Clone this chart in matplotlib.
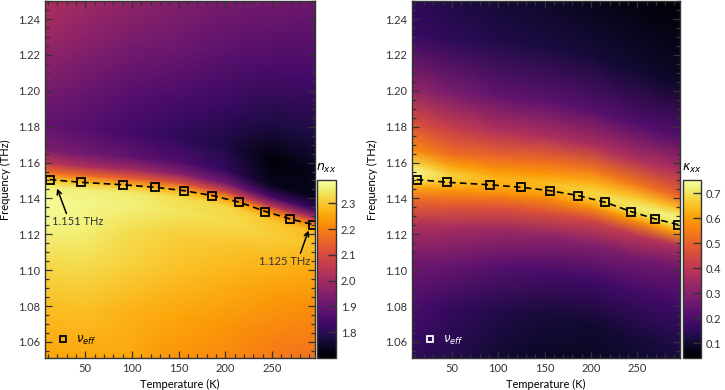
import numpy as np
import matplotlib
matplotlib.use("Agg")
import matplotlib.pyplot as plt
from matplotlib.lines import Line2D
from matplotlib.ticker import MultipleLocator

plt.rcParams["font.family"] = ["Lato", "DejaVu Sans"]
plt.rcParams["font.size"] = 8

# resonance (v_eff)
T_marker = [12, 45, 91, 125, 156, 186, 215, 243, 269, 294]
f_marker = [1.1505, 1.1490, 1.1476, 1.1462, 1.1443, 1.1416, 1.1379, 1.1327, 1.1286, 1.1254]

# coarse map grid: columns in T, rows as offsets from the resonance (THz)
T_cols = [7, 50, 100, 150, 200, 250, 297]
ridge_cols = [1.1508, 1.1488, 1.1472, 1.1447, 1.1398, 1.1316, 1.1250]
offsets = [-0.10, -0.07, -0.045, -0.025, -0.012, -0.004, 0.0,
           0.004, 0.009, 0.016, 0.03, 0.05, 0.08, 0.13]

n_xx = [
    [2.25, 2.25, 2.25, 2.22, 2.20, 2.17, 2.14],
    [2.29, 2.29, 2.27, 2.25, 2.23, 2.20, 2.18],
    [2.33, 2.33, 2.31, 2.29, 2.27, 2.24, 2.22],
    [2.37, 2.36, 2.33, 2.31, 2.30, 2.28, 2.26],
    [2.38, 2.37, 2.36, 2.34, 2.33, 2.31, 2.29],
    [2.36, 2.36, 2.35, 2.33, 2.32, 2.30, 2.28],
    [2.29, 2.29, 2.28, 2.27, 2.25, 2.23, 2.21],
    [2.17, 2.16, 2.14, 2.12, 2.09, 2.05, 2.02],
    [2.05, 2.02, 2.00, 1.96, 1.92, 1.85, 1.82],
    [1.94, 1.92, 1.89, 1.86, 1.82, 1.73, 1.73],
    [1.89, 1.87, 1.84, 1.81, 1.78, 1.71, 1.73],
    [1.93, 1.90, 1.87, 1.85, 1.82, 1.78, 1.78],
    [1.99, 1.96, 1.93, 1.91, 1.88, 1.85, 1.84],
    [2.06, 2.04, 2.01, 1.98, 1.96, 1.94, 1.92],
]

kappa_xx = [
    [0.15, 0.13, 0.10, 0.08, 0.08, 0.08, 0.09],
    [0.20, 0.16, 0.13, 0.11, 0.10, 0.11, 0.12],
    [0.27, 0.25, 0.22, 0.20, 0.18, 0.18, 0.18],
    [0.38, 0.36, 0.34, 0.32, 0.30, 0.27, 0.25],
    [0.51, 0.49, 0.47, 0.47, 0.44, 0.40, 0.37],
    [0.62, 0.59, 0.58, 0.58, 0.59, 0.59, 0.61],
    [0.71, 0.65, 0.62, 0.63, 0.66, 0.69, 0.71],
    [0.74, 0.67, 0.63, 0.64, 0.68, 0.71, 0.73],
    [0.68, 0.61, 0.58, 0.59, 0.63, 0.65, 0.65],
    [0.57, 0.52, 0.51, 0.52, 0.54, 0.54, 0.51],
    [0.47, 0.42, 0.38, 0.37, 0.37, 0.37, 0.37],
    [0.32, 0.28, 0.24, 0.23, 0.22, 0.21, 0.21],
    [0.17, 0.15, 0.13, 0.12, 0.11, 0.10, 0.09],
    [0.13, 0.10, 0.08, 0.07, 0.05, 0.04, 0.04],
]

n_ticks = [1.8, 1.9, 2.0, 2.1, 2.2, 2.3]
k_ticks = [0.1, 0.2, 0.3, 0.4, 0.5, 0.6, 0.7]
XLIM = (7, 296)
YLIM = (1.051, 1.25)

TX, TY = np.meshgrid(T_cols, offsets)
FY = TY + np.array(ridge_cols)[None, :]
cmap = plt.get_cmap("inferno")


def bg_value(Z, t, f):
    j = int(np.argmin(np.abs(np.array(T_cols) - t)))
    return np.interp(f, FY[:, j], np.asarray(Z)[:, j])


def tick_col(u):
    return "black" if u > 0.55 else (1, 1, 1, 0.85)


def style_ticks(ax, Z, vmin, vmax):
    norm = lambda v: (v - vmin) / (vmax - vmin)
    for axis, which in [(ax.xaxis, "x"), (ax.yaxis, "y")]:
        for minor in (False, True):
            locs = axis.get_minorticklocs() if minor else axis.get_majorticklocs()
            ticks = axis.get_minor_ticks(len(locs)) if minor else axis.get_major_ticks(len(locs))
            for loc, tk in zip(locs, ticks):
                if which == "x":
                    c1 = tick_col(norm(bg_value(Z, loc, YLIM[0] + 0.004)))
                    c2 = tick_col(norm(bg_value(Z, loc, YLIM[1] - 0.004)))
                else:
                    c1 = tick_col(norm(bg_value(Z, XLIM[0] + 3, loc)))
                    c2 = tick_col(norm(bg_value(Z, XLIM[1] - 3, loc)))
                tk.tick1line.set_color(c1)
                tk.tick2line.set_color(c2)


def panel(ax, cax, Z, vmin, vmax, cticks, clabel, fg):
    mesh = ax.pcolormesh(TX, FY, Z, shading="gouraud", cmap=cmap,
                         vmin=vmin, vmax=vmax, rasterized=True)
    ax.plot(T_marker, f_marker, ls=(0, (4, 2.5)), color="black", lw=1.2,
            marker="s", ms=5.5, mfc="none", mec="black", mew=1.3)
    ax.set_xlim(*XLIM)
    ax.set_ylim(*YLIM)
    ax.xaxis.set_major_locator(MultipleLocator(50))
    ax.xaxis.set_minor_locator(MultipleLocator(10))
    ax.yaxis.set_major_locator(MultipleLocator(0.02))
    ax.yaxis.set_minor_locator(MultipleLocator(0.005))
    ax.yaxis.set_major_formatter(plt.FormatStrFormatter("%.2f"))
    ax.tick_params(which="both", direction="in", top=True, right=True,
                   width=0.9, labelsize=8, colors="#333333")
    ax.tick_params(which="major", length=5)
    ax.tick_params(which="minor", length=3)
    for s in ax.spines.values():
        s.set_color("#333333")
        s.set_linewidth(1.0)
    ax.set_xlabel("Temperature (K)", fontsize=8, labelpad=4)
    ax.set_ylabel("Frequency (THz)", fontsize=8, labelpad=5)

    h = Line2D([], [], ls="none", marker="s", ms=4.5, mfc="none", mec=fg, mew=1.3)
    leg = ax.legend([h], [r"$\nu_{eff}$"], loc="lower left", frameon=False,
                    bbox_to_anchor=(0.0, 0.0), handlelength=1.2,
                    handletextpad=0.5, fontsize=8.5)
    for t in leg.get_texts():
        t.set_color(fg)

    cb = plt.colorbar(mesh, cax=cax, ticks=cticks)
    cb.outline.set_edgecolor("#333333")
    cb.outline.set_linewidth(1.0)
    cax.tick_params(direction="in", length=6, width=1.0, labelsize=8,
                    colors="#333333")
    for v, tk in zip(cticks, cax.yaxis.get_major_ticks(len(cticks))):
        tk.tick2line.set_color("#222222" if (v - vmin) / (vmax - vmin) > 0.5
                               else (1, 1, 1, 0.8))
    cax.text(0.5, 1.03, clabel, transform=cax.transAxes, ha="center",
             va="bottom", fontsize=9)
    style_ticks(ax, Z, vmin, vmax)
    return mesh


fig = plt.figure(figsize=(7.25, 3.9), dpi=100)
ax1 = fig.add_axes([0.0621, 0.082, 0.3724, 0.915])
cax1 = fig.add_axes([0.4379, 0.082, 0.0252, 0.456])
ax2 = fig.add_axes([0.5683, 0.082, 0.3697, 0.915])
cax2 = fig.add_axes([0.9417, 0.082, 0.0252, 0.456])

panel(ax1, cax1, n_xx, 1.70, 2.39, n_ticks, r"$n_{xx}$", "black")
panel(ax2, cax2, kappa_xx, 0.04, 0.753, k_ticks, r"$\kappa_{xx}$", "white")

arrow = dict(arrowstyle="->", color="black", lw=1.1, shrinkA=0, shrinkB=0)
ax1.annotate("1.151 THz", xy=(20, 1.1455), xytext=(42, 1.127),
             ha="center", va="center", fontsize=8, color="#333333",
             arrowprops=dict(arrow, relpos=(0.3, 1.0)))
ax1.annotate("1.125 THz", xy=(289, 1.1221), xytext=(264, 1.1048),
             ha="center", va="center", fontsize=8, color="#333333",
             arrowprops=dict(arrow, relpos=(0.78, 1.0)))

fig.savefig("out.png", dpi=100)
